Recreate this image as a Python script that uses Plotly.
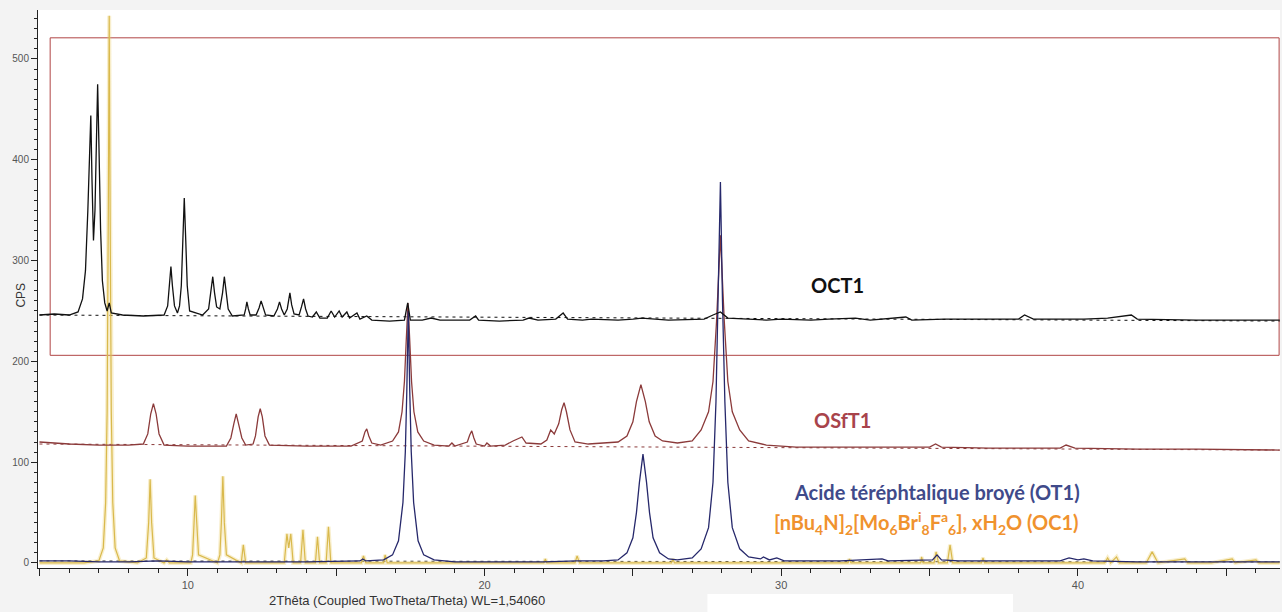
import plotly.graph_objects as go

# Diffractograms, (2theta, CPS) vertices
OCT1 = [
    (5.0, 246), (5.5, 247), (6.0, 246), (6.3, 249), (6.45, 262), (6.55, 290), (6.63, 350),
    (6.68, 400), (6.73, 444), (6.77, 380), (6.82, 320), (6.87, 350), (6.92, 420), (6.96, 475),
    (7.0, 420), (7.06, 330), (7.12, 280), (7.2, 258), (7.28, 250), (7.35, 258), (7.42, 248),
    (7.8, 246), (8.5, 245), (9.2, 246), (9.32, 255), (9.38, 275), (9.43, 294), (9.48, 275),
    (9.55, 255), (9.65, 248), (9.72, 255), (9.78, 275), (9.84, 320), (9.88, 362), (9.93, 320),
    (9.98, 275), (10.06, 250), (10.5, 246), (10.7, 252), (10.78, 268), (10.84, 284),
    (10.9, 268), (10.97, 254), (11.08, 252), (11.17, 268), (11.23, 284), (11.29, 268),
    (11.36, 252), (11.5, 245), (11.9, 246), (11.95, 252), (11.99, 259), (12.04, 252),
    (12.1, 246), (12.3, 246), (12.4, 253), (12.47, 260), (12.54, 253), (12.62, 246),
    (12.9, 245), (13.02, 252), (13.09, 259), (13.16, 252), (13.25, 246), (13.35, 252),
    (13.44, 268), (13.5, 256), (13.58, 247), (13.75, 246), (13.83, 254), (13.9, 262),
    (13.97, 252), (14.05, 245), (14.2, 244), (14.33, 249), (14.45, 243), (14.7, 243),
    (14.83, 250), (14.95, 244), (15.1, 250), (15.2, 244), (15.36, 249), (15.45, 243),
    (15.7, 248), (15.8, 242), (16.03, 245), (16.2, 241), (16.8, 240), (17.3, 241),
    (17.41, 258), (17.5, 241), (17.9, 241), (18.2, 243), (18.5, 241), (19.5, 241),
    (19.7, 245), (19.8, 241), (20.5, 240), (21.3, 241), (21.5, 243), (21.8, 241),
    (22.4, 242), (22.65, 248), (22.8, 242), (23.3, 241), (23.6, 242), (24.5, 241),
    (25.0, 242), (25.3, 243), (26.2, 241), (27.4, 242), (27.7, 246), (27.95, 249),
    (28.2, 243), (28.8, 242), (29.5, 241), (30.0, 242), (31.0, 241), (31.6, 242),
    (32.5, 243), (33.0, 241), (33.9, 243), (34.2, 244), (34.4, 241), (35.5, 242),
    (38.0, 242), (38.2, 246), (38.5, 242), (40.2, 242), (41.0, 243), (41.8, 246),
    (42.0, 242), (44.0, 241), (46.8, 241),
]

OSFT1 = [
    (5.0, 120), (6.0, 118), (7.0, 117), (8.0, 117), (8.5, 118), (8.65, 128), (8.75, 148),
    (8.84, 158), (8.93, 148), (9.03, 128), (9.2, 117), (10.0, 116), (11.3, 116),
    (11.45, 124), (11.55, 138), (11.63, 148), (11.71, 138), (11.82, 124), (11.95, 117),
    (12.2, 118), (12.28, 126), (12.37, 145), (12.44, 153), (12.51, 145), (12.6, 126),
    (12.75, 117), (14.0, 116), (15.5, 116), (15.88, 121), (15.97, 130), (16.03, 133),
    (16.1, 126), (16.2, 119), (16.5, 117), (16.9, 121), (17.1, 130), (17.22, 150),
    (17.3, 180), (17.36, 220), (17.42, 258), (17.48, 220), (17.54, 180), (17.62, 150),
    (17.75, 130), (17.95, 121), (18.3, 117), (18.8, 116), (18.9, 119), (19.0, 116),
    (19.42, 120), (19.5, 127), (19.57, 131), (19.64, 124), (19.72, 118), (20.0, 116),
    (20.08, 119), (20.2, 116), (20.7, 117), (20.96, 121), (21.1, 123), (21.26, 125),
    (21.4, 119), (21.9, 118), (22.1, 122), (22.23, 132), (22.35, 128), (22.5, 138),
    (22.6, 152), (22.68, 159), (22.76, 150), (22.88, 132), (23.05, 120), (23.22, 119),
    (23.5, 118), (24.0, 119), (24.5, 120), (24.8, 126), (25.0, 140), (25.12, 160),
    (25.27, 177), (25.42, 160), (25.55, 140), (25.75, 126), (26.0, 121), (26.5, 119),
    (27.0, 121), (27.3, 132), (27.55, 150), (27.7, 180), (27.82, 240), (27.95, 325),
    (28.08, 240), (28.2, 180), (28.35, 150), (28.6, 132), (28.9, 121), (29.5, 117),
    (30.5, 115), (32.0, 115), (33.4, 115), (35.0, 115), (35.2, 118), (35.4, 115),
    (37.0, 114), (39.4, 114), (39.6, 117), (39.9, 114), (42.0, 113), (44.0, 113),
    (46.8, 112),
]

OT1 = [
    (5.0, 2), (6.0, 2), (7.0, 1), (8.0, 1), (9.0, 2), (10.0, 1), (12.0, 1), (14.0, 1),
    (15.8, 2), (15.9, 4), (16.0, 2), (16.6, 3), (16.9, 8), (17.1, 22), (17.25, 60),
    (17.33, 110), (17.38, 170), (17.43, 250), (17.48, 170), (17.53, 110), (17.61, 60),
    (17.76, 22), (17.95, 8), (18.3, 3), (19.0, 1), (20.0, 1), (22.0, 1), (23.1, 2),
    (24.0, 2), (24.5, 3), (24.8, 10), (25.0, 25), (25.12, 50), (25.22, 80), (25.34, 108),
    (25.46, 80), (25.56, 50), (25.68, 25), (25.9, 10), (26.2, 4), (26.5, 3), (27.0, 5),
    (27.3, 14), (27.55, 35), (27.7, 80), (27.8, 160), (27.88, 260), (27.95, 378),
    (28.02, 260), (28.1, 160), (28.2, 80), (28.35, 35), (28.6, 14), (28.9, 6),
    (29.3, 4), (29.4, 6), (29.6, 3), (29.85, 5), (30.1, 2), (31.0, 2), (32.0, 2),
    (33.4, 4), (33.6, 2), (35.1, 3), (35.25, 8), (35.4, 3), (36.0, 2), (37.0, 2),
    (39.4, 2), (39.7, 5), (40.0, 3), (40.2, 4), (40.5, 2), (42.0, 1), (46.8, 1),
]

OC1 = [
    (5.0, 0), (6.5, 0), (7.0, 2), (7.15, 15), (7.23, 60), (7.28, 150), (7.32, 350),
    (7.35, 543), (7.38, 350), (7.42, 150), (7.47, 60), (7.55, 15), (7.7, 2), (8.3, 0),
    (8.6, 5), (8.68, 40), (8.73, 83), (8.78, 40), (8.86, 5), (9.2, 0), (9.29, 3),
    (9.38, 0), (10.1, 0), (10.16, 8), (10.21, 40), (10.25, 67), (10.3, 40), (10.36, 8),
    (11.0, 0), (11.08, 8), (11.13, 40), (11.18, 86), (11.23, 40), (11.3, 8), (11.8, 0),
    (11.87, 18), (11.95, 0), (13.25, 0), (13.34, 29), (13.40, 15), (13.47, 29),
    (13.55, 0), (13.8, 0), (13.88, 33), (13.96, 0), (14.3, 0), (14.37, 26), (14.44, 0),
    (14.66, 0), (14.74, 36), (14.82, 0), (15.85, 0), (15.92, 7), (16.0, 0), (16.6, 0),
    (16.65, 8), (16.72, 0), (22.0, 0), (22.05, 4), (22.1, 0), (23.05, 0), (23.12, 7),
    (23.2, 0), (26.3, 0), (26.35, 4), (26.4, 0), (32.25, 0), (32.3, 4), (32.35, 0),
    (34.7, 0), (34.73, 6), (34.78, 0), (35.15, 0), (35.22, 11), (35.3, 0), (35.6, 0),
    (35.69, 18), (35.78, 0), (36.75, 0), (36.8, 5), (36.85, 0), (40.9, 0), (41.0, 5),
    (41.1, 0), (41.3, 6), (41.4, 0), (42.3, 0), (42.5, 11), (42.7, 0), (43.6, 4),
    (43.7, 0), (44.5, 0), (45.2, 4), (45.3, 0), (46.0, 3), (46.1, 0), (46.8, 0),
]

# dashed background lines: x pair, y pair
BG_OCT1 = [(5.0, 46.8), (246, 240)]
BG_OSFT1 = [(5.0, 46.8), (118, 112)]
BG_OT1 = [(5.0, 46.8), (2, 1)]

ZOOM_BOX = [(5.36, 46.78), (206, 521)]

LABELS = [
    ("<b>OCT1</b>", 31.9, 276, "#111111"),
    ("<b>OSfT1</b>", 32.05, 142, "#A8434B"),
    ("<b>Acide téréphtalique broyé (OT1)</b>", 35.24, 70.7, "#3F4A8A"),
    ("<b>[nBu<sub>4</sub>N]<sub>2</sub>[Mo<sub>6</sub>Br<sup>i</sup><sub>8</sub>"
     "F<sup>a</sup><sub>6</sub>], xH<sub>2</sub>O (OC1)</b>", 34.88, 39.7, "#F0922E"),
]

COLORS = {
    "oct1": "#111111",
    "osft1": "#8B3A3A",
    "ot1": "#26286B",
    "oc1": "#D9B94C",
}


def xy(points):
    return [p[0] for p in points], [p[1] for p in points]


fig = go.Figure()

# background (dashed) lines
for bg, color in [(BG_OCT1, COLORS["oct1"]), (BG_OSFT1, COLORS["osft1"]), (BG_OT1, "#333333")]:
    fig.add_trace(go.Scatter(
        x=list(bg[0]), y=list(bg[1]), mode="lines",
        line=dict(color=color, width=1, dash="3px,4px"),
    ))

# OC1 has a soft glow in the original
x, y = xy(OC1)
fig.add_trace(go.Scatter(x=x, y=y, mode="lines",
                         line=dict(color="rgba(235,205,110,0.35)", width=4)))
fig.add_trace(go.Scatter(x=x, y=y, mode="lines",
                         line=dict(color=COLORS["oc1"], width=1.2)))

for pts, key in [(OSFT1, "osft1"), (OT1, "ot1"), (OCT1, "oct1")]:
    x, y = xy(pts)
    fig.add_trace(go.Scatter(x=x, y=y, mode="lines",
                             line=dict(color=COLORS[key], width=1.3)))

# red zoom box around OCT1
fig.add_shape(type="rect", xref="x", yref="y",
              x0=ZOOM_BOX[0][0], x1=ZOOM_BOX[0][1], y0=ZOOM_BOX[1][0], y1=ZOOM_BOX[1][1],
              line=dict(color="#B04545", width=1), layer="below")

for text, lx, ly, color in LABELS:
    fig.add_annotation(x=lx, y=ly, text=text, showarrow=False,
                       font=dict(family="Lato", size=20, color=color))

fig.add_annotation(xref="paper", yref="paper", x=0.297, y=-0.042,
                   xanchor="center", yanchor="top",
                   text="2Thêta (Coupled TwoTheta/Theta) WL=1,54060", showarrow=False,
                   font=dict(family="Liberation Sans", size=13, color="#333333"))
fig.add_annotation(xref="paper", yref="paper", x=-0.0137, y=0.49, textangle=-90,
                   xanchor="center", yanchor="middle",
                   text="CPS", showarrow=False,
                   font=dict(family="Liberation Sans", size=12, color="#333333"))

# white strip at the bottom of the screenshot
fig.add_shape(type="rect", xref="paper", yref="paper", x0=0.539, x1=0.785,
              y0=-0.0466, y1=-0.085, fillcolor="white", line_width=0)

fig.update_xaxes(
    range=[4.95, 46.81], showgrid=False, zeroline=False, automargin=False,
    showline=True, linecolor="#222222", linewidth=1,
    tickmode="linear", tick0=10, dtick=5, ticklabelstep=2,
    ticks="outside", ticklen=7, tickcolor="#222222",
    tickfont=dict(family="Liberation Sans", size=11, color="#555555"),
    minor=dict(dtick=1, ticks="outside", ticklen=4, tickcolor="#222222"),
)
fig.update_yaxes(
    range=[-5, 548.6], showgrid=False, zeroline=False, automargin=False,
    showline=True, linecolor="#222222", linewidth=1,
    tickmode="linear", tick0=0, dtick=100, ticks="outside", ticklen=6,
    tickcolor="#222222",
    tickfont=dict(family="Liberation Sans", size=10, color="#555555"),
    minor=dict(dtick=10, ticks="outside", ticklen=3, tickcolor="#222222"),
)

fig.update_layout(
    width=1282, height=612,
    margin=dict(l=38, r=2, t=10, b=44),
    paper_bgcolor="#F3F3F3", plot_bgcolor="#FFFFFF",
    showlegend=False, hovermode=False,
)

# drop the default page margin so the figure sits at the window's top-left corner
fig.write_html("out.html", config={"displayModeBar": False},
               post_script="document.body.style.margin = '0';")
